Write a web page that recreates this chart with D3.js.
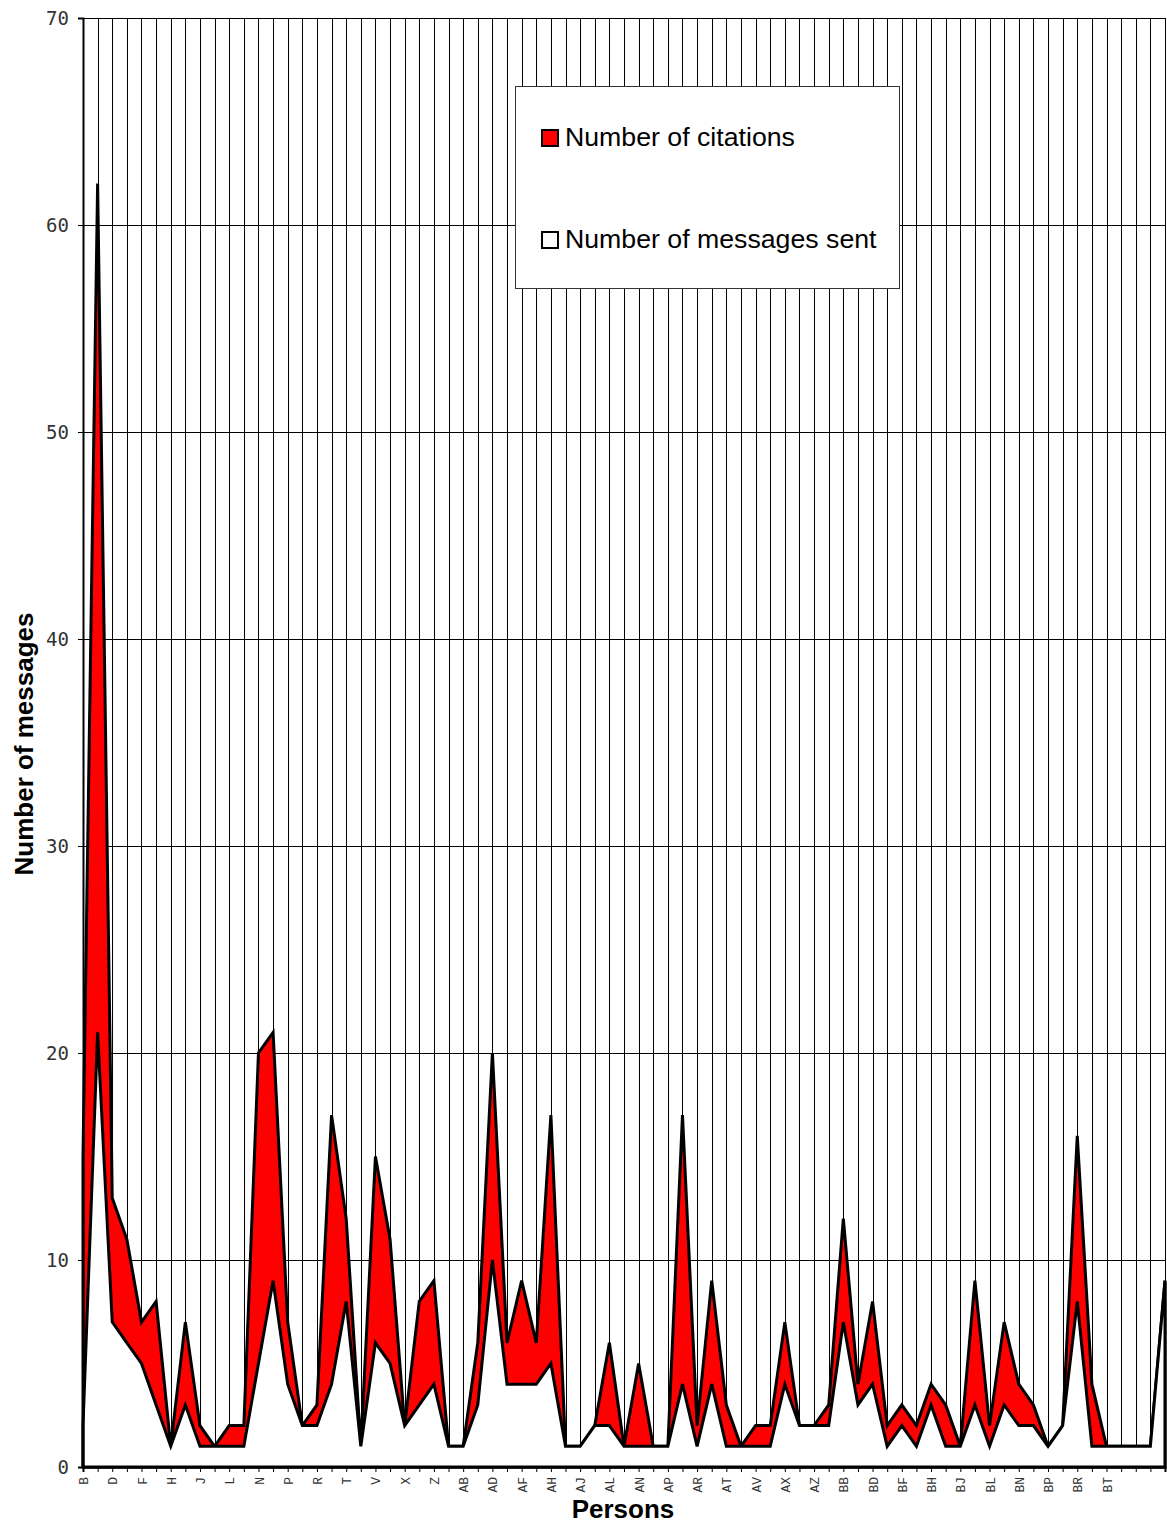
<!DOCTYPE html>
<html>
<head>
<meta charset="utf-8">
<script src="https://cdn.jsdelivr.net/npm/d3@7"></script>
<style>
  body { margin: 0; background: #fff; }
  svg { display: block; }
</style>
</head>
<body>
<svg id="chart" width="1167" height="1526"></svg>
<script>
// persons on the category axis (last four have no name)
var persons = ["B","C","D","E","F","G","H","I","J","K","L","M","N","O","P","Q","R","S","T","U","V","W","X","Y","Z",
	"AA","AB","AC","AD","AE","AF","AG","AH","AI","AJ","AK","AL","AM","AN","AO","AP","AQ","AR","AS","AT","AU","AV","AW","AX","AY","AZ",
	"BA","BB","BC","BD","BE","BF","BG","BH","BI","BJ","BK","BL","BM","BN","BO","BP","BQ","BR","BS","BT","","","",""];

var citations = [15,62,13,11,7,8,1,7,2,1,2,2,20,21,7,2,3,17,12,1,15,11,2,8,9,
	1,1,6,20,6,9,6,17,1,1,2,6,1,5,1,1,17,2,9,3,1,2,2,7,2,2,
	3,12,4,8,2,3,2,4,3,1,9,2,7,4,3,1,2,16,4,1,1,1,1,9];

var messagesSent = [2,21,7,6,5,3,1,3,1,1,1,1,5,9,4,2,2,4,8,1,6,5,2,3,4,
	1,1,3,10,4,4,4,5,1,1,2,2,1,1,1,1,4,1,4,1,1,1,1,4,2,2,
	2,7,3,4,1,2,1,3,1,1,3,1,3,2,2,1,2,8,1,1,1,1,1,9];

var yTicks = [0,10,20,30,40,50,60,70];

var legendItems = [
	{label: "Number of citations", fill: "#ff0000"},
	{label: "Number of messages sent", fill: "#ffffff"}
];

var plotLeft = 83, plotRight = 1165, plotTop = 18, plotBottom = 1467;

var svg = d3.select("#chart");

var x = d3.scalePoint()
	.domain(d3.range(persons.length))
	.range([plotLeft, plotRight]);

var y = d3.scaleLinear()
	.domain([0, 70])
	.range([plotBottom, plotTop]);

// grid
var grid = svg.append("g");
grid.selectAll("line.v")
	.data(d3.range(persons.length))
	.enter()
		.append("line")
		.attr("x1", d => Math.round(x(d)) + 0.5).attr("x2", d => Math.round(x(d)) + 0.5)
		.attr("y1", plotTop).attr("y2", plotBottom)
		.attr("stroke", "#000")
		.attr("stroke-width", 1);

grid.selectAll("line.h")
	.data(yTicks)
	.enter()
		.append("line")
		.attr("x1", plotLeft).attr("x2", plotRight)
		.attr("y1", d => Math.round(y(d)) + 0.5).attr("y2", d => Math.round(y(d)) + 0.5)
		.attr("stroke", "#000")
		.attr("stroke-width", 1);

// areas
var area = d3.area()
	.x((d, i) => x(i))
	.y0(y(0))
	.y1(d => y(d));

svg.append("path")
	.datum(citations)
	.attr("d", area)
	.attr("fill", legendItems[0].fill)
	.attr("stroke", "#000")
	.attr("stroke-width", 3);

svg.append("path")
	.datum(messagesSent)
	.attr("d", area)
	.attr("fill", legendItems[1].fill)
	.attr("stroke", "#000")
	.attr("stroke-width", 3);

// axes
var yAxis = svg.append("g")
	.attr("transform", "translate(" + plotLeft + ",0)")
	.call(d3.axisLeft(y).tickValues(yTicks).tickSize(5).tickPadding(9));
yAxis.select(".domain").attr("stroke-width", 2);
yAxis.selectAll("text")
	.attr("font-family", "DejaVu Sans Mono")
	.attr("font-size", 19)
	.attr("font-weight", "normal")
	.attr("fill", "#333");

var xAxis = svg.append("g")
	.attr("transform", "translate(0," + plotBottom + ")")
	.call(d3.axisBottom(x).tickSize(5).tickFormat(i => i % 2 === 0 ? persons[i] : ""));
xAxis.select(".domain").attr("stroke-width", 2);
xAxis.selectAll("text")
	.attr("font-family", "Liberation Mono")
	.attr("font-size", 13)
	.attr("fill", "#333")
	.attr("text-anchor", "end")
	.attr("transform", "rotate(-90)")
	.attr("x", -10)
	.attr("y", 0)
	.attr("dy", "0.35em");

// axis titles
svg.append("text")
	.attr("x", 623)
	.attr("y", 1518)
	.attr("text-anchor", "middle")
	.attr("font-family", "Liberation Sans")
	.attr("font-weight", "bold")
	.attr("font-size", 26)
	.text("Persons");

svg.append("text")
	.attr("transform", "translate(33,744) rotate(-90)")
	.attr("text-anchor", "middle")
	.attr("font-family", "Liberation Sans")
	.attr("font-weight", "bold")
	.attr("font-size", 26)
	.text("Number of messages");

// legend
var legend = svg.append("g");
legend.append("rect")
	.attr("x", 515.5).attr("y", 86.5)
	.attr("width", 384).attr("height", 202)
	.attr("fill", "#fff")
	.attr("stroke", "#333")
	.attr("stroke-width", 1);

var item = legend.selectAll("g.item")
	.data(legendItems)
	.enter()
		.append("g")
		.attr("transform", (d, i) => "translate(541," + (129 + i * 102) + ")");

item.append("rect")
	.attr("x", 1).attr("y", 1)
	.attr("width", 16).attr("height", 16)
	.attr("fill", d => d.fill)
	.attr("stroke", "#000")
	.attr("stroke-width", 2);

item.append("text")
	.attr("x", 24)
	.attr("y", 17)
	.attr("font-family", "Liberation Sans")
	.attr("font-size", 26.7)
	.text(d => d.label);
</script>
</body>
</html>
